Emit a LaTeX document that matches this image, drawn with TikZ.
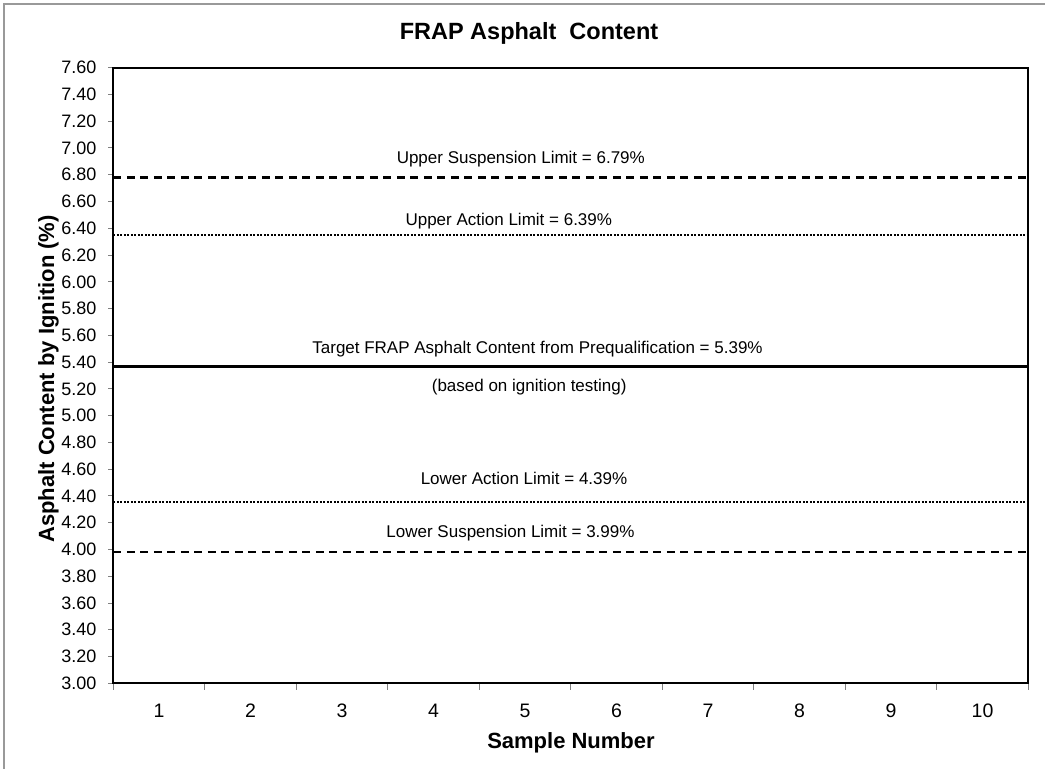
\documentclass[tikz,border=0pt]{standalone}
\usepackage{fontspec}
\setmainfont{Liberation Sans}
\begin{document}
\begin{tikzpicture}[x=1pt,y=-1pt,
  lbl/.style={font=\fontsize{17}{20}\selectfont, inner sep=0pt, anchor=base},
  ytl/.style={font=\fontsize{18}{21}\selectfont, inner sep=0pt, anchor=east},
  xtl/.style={font=\fontsize{19.5}{22}\selectfont, inner sep=0pt, anchor=base},
  axtitle/.style={font=\bfseries\fontsize{22}{26}\selectfont, inner sep=0pt, anchor=base},
  tickmark/.style={draw=gray, line width=1pt},
  frame/.style={line width=2pt, line cap=rect},
  susp/.style={line width=2.5pt, dash pattern=on 8pt off 5.5pt},
  act/.style={line width=2.2pt, dash pattern=on 1.7pt off 1.8pt},
  targ/.style={line width=2.6pt}
]
\useasboundingbox (0,0) rectangle (1045,769);
% outer chart border
\draw[gray!80, line width=1.2pt] (4,769) -- (4,4) -- (1045,4);

% title
\node[font=\bfseries\fontsize{23.5}{28}\selectfont, inner sep=0pt, anchor=base] (title) at (529,39.3) {FRAP Asphalt\ \ Content};

% y ticks and labels
\foreach \v [count=\i from 0] in {7.60,7.40,7.20,7.00,6.80,6.60,6.40,6.20,6.00,5.80,5.60,5.40,5.20,5.00,4.80,4.60,4.40,4.20,4.00,3.80,3.60,3.40,3.20,3.00} {
  \pgfmathsetmacro\yy{67.7+\i*26.765}
  \draw[tickmark] (108.3,\yy) -- (113.3,\yy);
  \node[ytl] (yl\i) at (96.7,\yy) {\v};
}

% x ticks and labels
\foreach \k in {0,...,10} {
  \pgfmathsetmacro\xx{113.3+\k*91.5}
  \draw[tickmark] (\xx,683.3) -- (\xx,689.5);
}
\foreach \k in {1,...,10} {
  \pgfmathsetmacro\xx{113.3+(\k-0.5)*91.5}
  \node[xtl] (xl\k) at (\xx,717.3) {\k};
}

% limit lines
\coordinate (usL) at (113.3,177.7);  \coordinate (usR) at (1028.3,177.7);
\coordinate (uaL) at (113.3,235);    \coordinate (uaR) at (1028.3,235);
\coordinate (tgL) at (113.3,366.7);  \coordinate (tgR) at (1028.3,366.7);
\coordinate (laL) at (113.3,502);    \coordinate (laR) at (1028.3,502);
\coordinate (lsL) at (113.3,552);    \coordinate (lsR) at (1028.3,552);
\draw[susp] (usL) -- (usR);
\draw[act]  (uaL) -- (uaR);
\draw[targ] (tgL) -- (tgR);
\draw[act]  (laL) -- (laR);
\draw[susp] (lsL) -- (lsR);

% line labels
\node[lbl] (usLabel) at (520.8,163.3) {Upper Suspension Limit = 6.79\%};
\node[lbl] (uaLabel) at (508.8,225.7) {Upper Action Limit = 6.39\%};
\node[lbl] (tgLabel) at (537.5,353.3) {Target FRAP Asphalt Content from Prequalification = 5.39\%};
\node[lbl] (tgNote)  at (529.2,391) {(based on ignition testing)};
\node[lbl] (laLabel) at (524,484.3) {Lower Action Limit = 4.39\%};
\node[lbl] (lsLabel) at (510.5,537.3) {Lower Suspension Limit = 3.99\%};

% plot frame
\draw[frame] (113.3,67.7) rectangle (1028.3,683.3);

% axis titles
\node[axtitle] (xtitle) at (571,748.5) {Sample Number};
\node[axtitle, rotate=90] (ytitle) at (54,379) {Asphalt Content by Ignition (\%)};
\end{tikzpicture}
\end{document}
